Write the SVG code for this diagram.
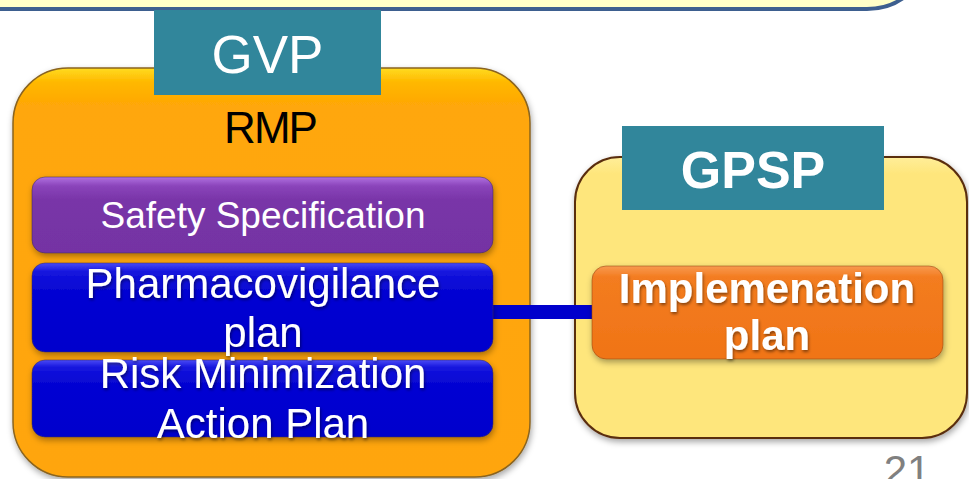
<svg xmlns="http://www.w3.org/2000/svg" width="969" height="479" viewBox="0 0 969 479">
<defs>
  <filter id="shadow" x="-10%" y="-10%" width="120%" height="130%">
    <feDropShadow dx="1" dy="3" stdDeviation="3" flood-color="#000" flood-opacity="0.35"/>
  </filter>
  <filter id="tshadow" x="-5%" y="-20%" width="110%" height="150%">
    <feDropShadow dx="1" dy="2" stdDeviation="1.5" flood-color="#000" flood-opacity="0.45"/>
  </filter>
  <linearGradient id="gOrange" x1="0" y1="0" x2="0" y2="1">
    <stop offset="0" stop-color="#FFDC20"/>
    <stop offset="0.035" stop-color="#FFB800"/>
    <stop offset="0.09" stop-color="#FFA707"/>
    <stop offset="1" stop-color="#FFA507"/>
  </linearGradient>
  <linearGradient id="gYellow" x1="0" y1="0" x2="0" y2="1">
    <stop offset="0" stop-color="#FFEE99"/>
    <stop offset="0.06" stop-color="#FEE67C"/>
    <stop offset="1" stop-color="#FEE67C"/>
  </linearGradient>
  <linearGradient id="gPurple" x1="0" y1="0" x2="0" y2="1">
    <stop offset="0" stop-color="#B070E0"/>
    <stop offset="0.12" stop-color="#8A44BA"/>
    <stop offset="0.3" stop-color="#7935A8"/>
    <stop offset="1" stop-color="#7433A3"/>
  </linearGradient>
  <linearGradient id="gBlue" x1="0" y1="0" x2="0" y2="1">
    <stop offset="0" stop-color="#4A4AF5"/>
    <stop offset="0.1" stop-color="#1515DD"/>
    <stop offset="0.3" stop-color="#0606D3"/>
    <stop offset="1" stop-color="#0404CC"/>
  </linearGradient>
  <linearGradient id="gImpl" x1="0" y1="0" x2="0" y2="1">
    <stop offset="0" stop-color="#F89A50"/>
    <stop offset="0.12" stop-color="#F37C20"/>
    <stop offset="1" stop-color="#F07416"/>
  </linearGradient>
</defs>
<style>
  text { font-family: "Liberation Sans", Arial, sans-serif; text-anchor: middle; }
  .label { fill: #31869B; }
  .labelText { fill: #FFFFFF; font-size: 53px; }
  .white { fill: #FFFFFF; }
  .inner { stroke: #3a2a50; stroke-opacity: 0.5; stroke-width: 1; }
</style>

<g id="banner">
  <rect x="-60" y="-80" width="982" height="89" rx="55" ry="55" fill="#FFFFC8" stroke="#3D5F8F" stroke-width="4"/>
</g>

<g id="rmp-container">
  <rect x="13" y="68" width="517" height="409" rx="55" ry="55" fill="url(#gOrange)" stroke="#8A6420" stroke-width="1.5" filter="url(#shadow)"/>
  <text x="270" y="143" font-size="44" fill="#000000" letter-spacing="-2">RMP</text>
</g>

<g id="gvp-label">
  <rect class="label" x="154" y="10" width="227" height="85"/>
  <text class="labelText" x="267.5" y="73">GVP</text>
</g>

<g id="gpsp-container">
  <rect x="575" y="157" width="392" height="281" rx="45" ry="45" fill="url(#gYellow)" stroke="#5A2D10" stroke-width="2" filter="url(#shadow)"/>
</g>

<g id="gpsp-label">
  <rect class="label" x="622" y="126" width="262" height="84"/>
  <text class="labelText" x="753" y="188" font-weight="bold" style="font-size:52px">GPSP</text>
</g>

<g id="connectors">
  <line x1="490" y1="312" x2="596" y2="312" stroke="#0000CC" stroke-width="14"/>
</g>

<g id="safety-specification">
  <rect class="inner" x="32" y="177" width="461" height="76" rx="13" ry="13" fill="url(#gPurple)" filter="url(#shadow)"/>
  <text class="white" x="263" y="228" font-size="37">Safety Specification</text>
</g>

<g id="pharmacovigilance-plan">
  <rect class="inner" x="32" y="263" width="461" height="89" rx="13" ry="13" fill="url(#gBlue)" filter="url(#shadow)"/>
  <text class="white" x="263" y="298" font-size="42" filter="url(#tshadow)">Pharmacovigilance</text>
  <text class="white" x="263" y="347" font-size="42" filter="url(#tshadow)">plan</text>
</g>

<g id="risk-minimization-action-plan">
  <rect class="inner" x="32" y="360" width="461" height="77" rx="13" ry="13" fill="url(#gBlue)" filter="url(#shadow)"/>
  <text class="white" x="263" y="388" font-size="42" filter="url(#tshadow)">Risk Minimization</text>
  <text class="white" x="263" y="438" font-size="42" filter="url(#tshadow)">Action Plan</text>
</g>

<g id="implementation-plan">
  <rect x="592" y="266" width="351" height="93" rx="14" ry="14" fill="url(#gImpl)" stroke="#8A4010" stroke-opacity="0.5" stroke-width="1" filter="url(#shadow)"/>
  <text class="white" x="767" y="303" font-size="42" font-weight="bold" filter="url(#tshadow)">Implemenation</text>
  <text class="white" x="767" y="350" font-size="42" font-weight="bold" filter="url(#tshadow)">plan</text>
</g>

<g id="page-number">
  <text x="907" y="485" font-size="42" fill="#808080">21</text>
</g>
</svg>
